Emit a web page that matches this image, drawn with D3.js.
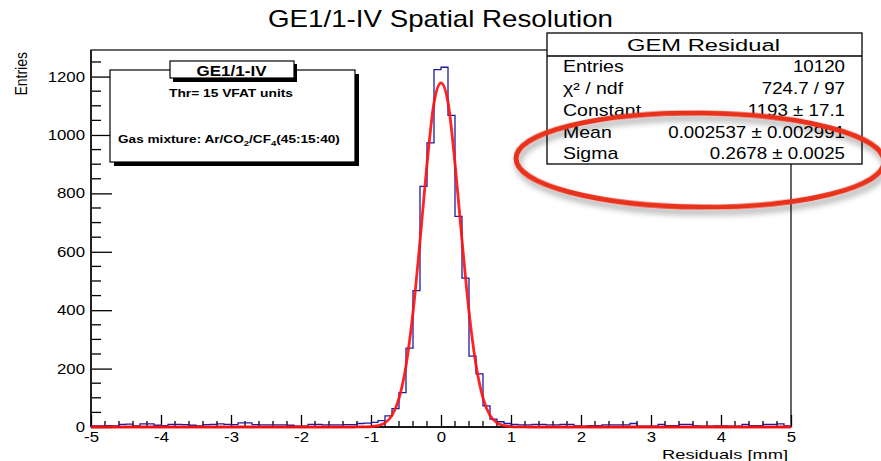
<!DOCTYPE html>
<html><head><meta charset="utf-8">
<script src="https://cdn.jsdelivr.net/npm/d3@7"></script>
<style>
body{margin:0;background:#fff;overflow:hidden}
text{font-family:"Liberation Sans",Arial,Helvetica,sans-serif;fill:#000}
</style>
</head><body>
<svg id="chart" width="881" height="461"></svg>
<script>
// ---------------- data ----------------
const chartTitle = "GE1/1-IV Spatial Resolution";
const xLabel = "Residuals [mm]";
const yLabel = "Entries";
const xDomain = [-5, 5];
const yMax = 1291;
const xTicks = [-5, -4, -3, -2, -1, 0, 1, 2, 3, 4, 5];
const yTicks = [0, 200, 400, 600, 800, 1000, 1200];
const binWidth = 0.1;
// histogram counts, 100 bins from -5 to 5
const counts = [
  4, 4, 5, 4, 9, 10, 4, 11, 11, 6,
  5, 9, 9, 8, 6, 4, 8, 9, 11, 9,
  8, 14, 14, 8, 7, 7, 7, 7, 6, 3,
  3, 9, 9, 7, 7, 7, 8, 8, 12, 13,
  16, 22, 38, 63, 118, 270, 467, 824, 973, 1224,
  1232, 1067, 721, 510, 243, 182, 72, 27, 18, 12,
  9, 7, 7, 9, 9, 7, 7, 9, 9, 4,
  3, 5, 5, 7, 7, 7, 7, 12, 3, 3,
  3, 9, 5, 5, 9, 9, 4, 3, 3, 4,
  4, 3, 3, 9, 5, 5, 9, 9, 11, 4
];
// fitted gaussian curve
const fitX = [-5, -1.3, -1.2, -1.1, -1.0, -0.9, -0.8, -0.7, -0.6, -0.5, -0.4, -0.3, -0.2, -0.1, 0,
              0.1, 0.2, 0.3, 0.4, 0.5, 0.6, 0.7, 0.8, 0.9, 1.0, 1.1, 1.2, 1.3, 5];
const fitY = [0, 0, 0.2, 0.6, 1.5, 5, 14, 40, 98, 210, 392, 636, 900, 1110, 1178,
              1112, 903, 640, 395, 212, 99, 40, 14, 5, 1.5, 0.6, 0.2, 0, 0];
const statTitle = "GEM Residual";
const statLabels = ["Entries", "\u03C7\u00B2 / ndf", "Constant", "Mean", "Sigma"];
const statValues = ["10120", "724.7 / 97", "1193 \u00B1 17.1", "0.002537 \u00B1 0.002991", "0.2678 \u00B1 0.0025"];
const boxTitle = "GE1/1-IV";
const boxLine1 = "Thr= 15 VFAT units";

// ---------------- drawing ----------------
const svg = d3.select("#chart");
const pL = 91, pR = 791, pT = 50, pB = 427;
const x = d3.scaleLinear().domain(xDomain).range([pL, pR]);
const y = d3.scaleLinear().domain([0, yMax]).range([pB, pT]);

const defs = svg.append("defs");
const flt = defs.append("filter").attr("id", "shadow")
  .attr("x", "-10%").attr("y", "-40%").attr("width", "125%").attr("height", "190%");
flt.append("feGaussianBlur").attr("in", "SourceAlpha").attr("stdDeviation", 3).attr("result", "blur");
flt.append("feOffset").attr("in", "blur").attr("dx", 2).attr("dy", 5).attr("result", "off");
flt.append("feFlood").attr("flood-color", "#000").attr("flood-opacity", 0.35).attr("result", "col");
flt.append("feComposite").attr("in", "col").attr("in2", "off").attr("operator", "in").attr("result", "sh");
const fm = flt.append("feMerge");
fm.append("feMergeNode").attr("in", "sh");
fm.append("feMergeNode").attr("in", "SourceGraphic");

// stretched text helper: scale horizontally to a target width
function stext(parent, px, py, str, opts) {
  const g = parent.append("g").attr("transform", `translate(${px},${py})`);
  const t = g.append("text")
    .attr("font-size", opts.size)
    .attr("font-weight", opts.bold ? "bold" : "normal")
    .attr("text-anchor", opts.anchor || "start")
    .text(str);
  const w = t.node().getComputedTextLength();
  const sx = opts.width ? opts.width / w : (opts.sx || 1);
  t.attr("transform", `scale(${sx},1)`);
  return t;
}

// title
stext(svg, 440.5, 27, chartTitle, {size: 23, anchor: "middle", width: 345});

// frame
svg.append("rect").attr("x", pL).attr("y", pT).attr("width", pR - pL).attr("height", pB - pT)
  .attr("fill", "none").attr("stroke", "#000").attr("stroke-width", 1.2);

// y axis
const yAxisG = svg.append("g").attr("transform", `translate(${pL},0)`)
  .call(d3.axisLeft(y).tickValues(yTicks).tickSizeInner(-21).tickSizeOuter(0).tickPadding(6).tickFormat(d3.format("d")));
yAxisG.select(".domain").remove();
yAxisG.selectAll(".tick line").attr("stroke", "#000").attr("stroke-width", 1.3);
yAxisG.selectAll(".tick text").attr("font-size", 14).attr("font-family", "Liberation Sans, Arial, sans-serif")
  .each(function(){ const w = this.getComputedTextLength(); d3.select(this).attr("textLength", w * 1.2).attr("lengthAdjust", "spacingAndGlyphs"); });
const yMinor = d3.range(0, yMax, 50).filter(v => v % 200 !== 0);
svg.append("g").selectAll("line").data(yMinor).join("line")
  .attr("x1", pL).attr("x2", pL + 10).attr("y1", d => y(d)).attr("y2", d => y(d))
  .attr("stroke", "#000").attr("stroke-width", 1.3);
svg.append("line").attr("x1", pL).attr("x2", pL).attr("y1", pT).attr("y2", pB)
  .attr("stroke", "#222").attr("stroke-width", 2);

// x axis
const xAxisG = svg.append("g").attr("transform", `translate(0,${pB})`)
  .call(d3.axisBottom(x).tickValues(xTicks).tickSizeInner(-12).tickSizeOuter(0).tickPadding(5).tickFormat(d3.format("d")));
xAxisG.select(".domain").remove();
xAxisG.selectAll(".tick line").attr("stroke", "#000").attr("stroke-width", 1.3);
xAxisG.selectAll(".tick text").attr("font-size", 14).attr("font-family", "Liberation Sans, Arial, sans-serif")
  .text(d => d3.format("d")(d).replace("\u2212", "-"))
  .each(function(){ const w = this.getComputedTextLength(); d3.select(this).attr("textLength", w * 1.2).attr("lengthAdjust", "spacingAndGlyphs"); });
const xMinor = d3.range(-50, 51, 2).map(v => v / 10).filter(v => Math.abs(v - Math.round(v)) > 1e-6);
svg.append("g").selectAll("line").data(xMinor).join("line")
  .attr("x1", d => x(d)).attr("x2", d => x(d)).attr("y1", pB).attr("y2", pB - 6)
  .attr("stroke", "#000").attr("stroke-width", 1.3);
svg.append("line").attr("x1", pL).attr("x2", pR).attr("y1", pB).attr("y2", pB)
  .attr("stroke", "#000").attr("stroke-width", 1.5);

// axis titles
stext(svg, 788, 458.5, xLabel, {size: 13, anchor: "end", width: 126});
svg.append("text").attr("transform", "translate(27,52) rotate(-90) scale(1,1.2)")
  .attr("text-anchor", "end").attr("font-size", 14).text(yLabel);

// histogram
const edges = counts.map((c, i) => +(xDomain[0] + i * binWidth).toFixed(2));
const histPts = [[xDomain[0], 0]].concat(counts.map((c, i) => [edges[i], c])).concat([[xDomain[1], counts[counts.length - 1]], [xDomain[1], 0]]);
svg.append("path").datum(histPts)
  .attr("d", d3.line().x(d => x(d[0])).y(d => y(d[1])).curve(d3.curveStepAfter))
  .attr("fill", "none").attr("stroke", "#1c1ca0").attr("stroke-width", 1.3);

// fit curve
svg.append("path").datum(fitX.map((v, i) => [v, fitY[i]]))
  .attr("d", d3.line().x(d => x(d[0])).y(d => y(d[1])).curve(d3.curveMonotoneX))
  .attr("fill", "none").attr("stroke", "#ff1010").attr("stroke-width", 2.8).attr("stroke-opacity", 0.92)
  .attr("stroke-linejoin", "round");

// left text box
const lb = svg.append("g");
lb.append("rect").attr("x", 114).attr("y", 74).attr("width", 245).attr("height", 92).attr("fill", "#000");
lb.append("rect").attr("x", 110).attr("y", 70).attr("width", 245).attr("height", 92)
  .attr("fill", "#fff").attr("stroke", "#000").attr("stroke-width", 1.2);
lb.append("rect").attr("x", 173).attr("y", 64).attr("width", 124).attr("height", 18).attr("fill", "#000");
lb.append("rect").attr("x", 170).attr("y", 61).attr("width", 124).attr("height", 17)
  .attr("fill", "#fff").attr("stroke", "#000").attr("stroke-width", 1.2);
stext(lb, 231.5, 75.5, boxTitle, {size: 14, bold: true, anchor: "middle", width: 70});
stext(lb, 231, 96.5, boxLine1, {size: 10, bold: true, anchor: "middle", width: 124});
// gas mixture line with subscripts
{
  const g = lb.append("g").attr("transform", "translate(118,143)");
  const t = g.append("text").attr("font-size", 10).attr("font-weight", "bold");
  t.append("tspan").text("Gas mixture: Ar/CO");
  t.append("tspan").attr("font-size", 7).attr("dy", 3).text("2");
  t.append("tspan").attr("dy", -3).text("/CF");
  t.append("tspan").attr("font-size", 7).attr("dy", 3).text("4");
  t.append("tspan").attr("dy", -3).text("(45:15:40)");
  const w = t.node().getComputedTextLength();
  t.attr("transform", `scale(${222 / w},1)`);
}

// stat box
const sb = svg.append("g");
sb.append("rect").attr("x", 547).attr("y", 33).attr("width", 315).attr("height", 131)
  .attr("fill", "#fff").attr("stroke", "#000").attr("stroke-width", 1.3);
sb.append("line").attr("x1", 547).attr("x2", 862).attr("y1", 56).attr("y2", 56)
  .attr("stroke", "#000").attr("stroke-width", 1.3);
stext(sb, 703.5, 51, statTitle, {size: 17, anchor: "middle", width: 153});
const rowY = [72, 93.5, 115.5, 137.5, 159];
statLabels.forEach((s, i) => stext(sb, 563, rowY[i], s, {size: 16, sx: 1.22}));
statValues.forEach((s, i) => stext(sb, 845, rowY[i], s, {size: 16, anchor: "end", sx: 1.17}));

// red annotation ellipse
svg.append("ellipse").attr("cx", 0).attr("cy", 0).attr("rx", 184).attr("ry", 47)
  .attr("transform", "translate(700,160) rotate(0.5)")
  .attr("fill", "none").attr("stroke", "#e8321f").attr("stroke-width", 5)
  .attr("filter", "url(#shadow)");
</script>
</body></html>
